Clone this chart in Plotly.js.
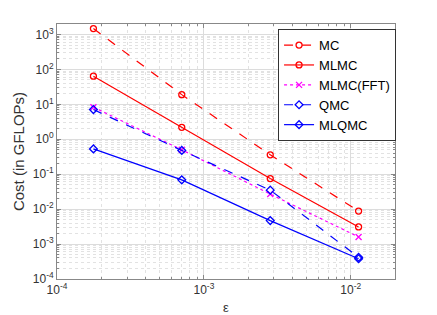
<!DOCTYPE html>
<html><head><meta charset="utf-8">
<script src="https://cdn.plot.ly/plotly-3.0.1.min.js"></script>
<style>body{margin:0;background:#fff}#c{width:437px;height:315px}</style>
</head><body><div id="c"></div>
<script>
const eps = [1.77e-4, 7.07e-4, 2.83e-3, 1.13e-2];
const mc = [1480, 19, 0.36, 0.0088];
const mlmc = [64, 2.2, 0.075, 0.0031];
const mlmcFFT = [8.3, 0.5, 0.027, 0.0016];
const qmc = [7.1, 0.48, 0.035, 0.00042];
const mlqmc = [0.53, 0.069, 0.0047, 0.00038];
const seriesNames = ['MC','MLMC','MLMC(FFT)','QMC','MLQMC'];
const xTickVals = [1e-4, 1e-3, 1e-2];
const xTickText = ['10<sup>-4</sup>','10<sup>-3</sup>','10<sup>-2</sup>'];
const yTickVals = [1e-4,1e-3,1e-2,1e-1,1,10,100,1000];
const yTickText = ['10<sup>-4</sup>','10<sup>-3</sup>','10<sup>-2</sup>','10<sup>-1</sup>','10<sup>0</sup>','10<sup>1</sup>','10<sup>2</sup>','10<sup>3</sup>'];

const red='#ff0000', mag='#ff00ff', blue='#0000ff';
function tr(y,name,color,dash,sym){
  return {x:eps,y:y,name:name,type:'scatter',mode:'lines+markers',
    line:{color:color,width:1.2,dash:dash},
    marker:{symbol:sym,size:6,color:color,line:{color:color,width:1.3}}};
}
const data=[
  tr(mc,seriesNames[0],red,'dash','circle-open'),
  tr(mlmc,seriesNames[1],red,'solid','circle-open'),
  tr(mlmcFFT,seriesNames[2],mag,'dot','x-thin-open'),
  tr(qmc,seriesNames[3],blue,'dash','diamond-open'),
  tr(mlqmc,seriesNames[4],blue,'solid','diamond-open')
];
const ax = {
  type:'log', showline:true, linecolor:'#888', linewidth:1, mirror:'ticks',
  ticks:'inside', ticklen:4, tickcolor:'#888',
  showgrid:true, gridcolor:'#dcdcdc', gridwidth:1, zeroline:false,
  tickmode:'array',
  tickfont:{family:'Liberation Sans, Arial', size:12, color:'#333'},
  minor:{dtick:'D1', ticks:'inside', ticklen:2, tickcolor:'#888', showgrid:true, gridcolor:'#e2e2e2', griddash:'dot', gridwidth:1}
};
const layout={
  width:437,height:315,
  margin:{l:57,r:42,t:24,b:36},
  paper_bgcolor:'#fff', plot_bgcolor:'#fff',
  showlegend:true,
  legend:{x:0.654,y:0.98,xanchor:'left',yanchor:'top',bgcolor:'#fff',bordercolor:'#333',borderwidth:1,
    font:{family:'Liberation Sans, Arial',size:13,color:'#000'},tracegroupgap:0,itemwidth:30},
  xaxis:Object.assign({},ax,{range:[-4,Math.log10(2e-2)],tickvals:xTickVals,ticktext:xTickText,
    title:{text:'ε',font:{family:'Liberation Sans, Arial',size:13,color:'#333'},standoff:6}}),
  yaxis:Object.assign({},ax,{range:[-4,Math.log10(2e3)],tickvals:yTickVals,ticktext:yTickText,
    title:{text:'Cost (in GFLOPs)',font:{family:'Liberation Sans, Arial',size:15,color:'#333'},standoff:4}})
};
Plotly.newPlot('c',data,layout,{displayModeBar:false,staticPlot:true});
</script></body></html>
